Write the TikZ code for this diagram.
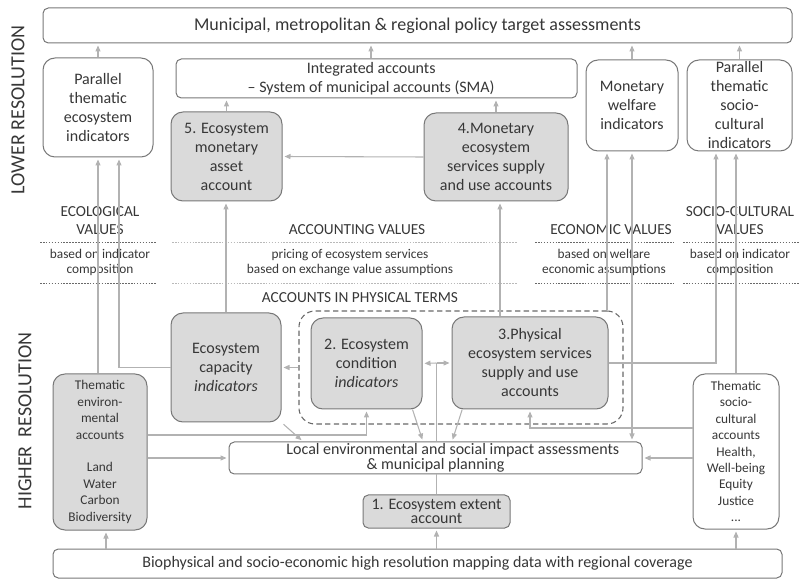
\documentclass[tikz,border=0pt]{standalone}
\usepackage{fontspec}
\setmainfont{Carlito}
\usetikzlibrary{arrows.meta}
\definecolor{tg}{RGB}{55,55,55}
\definecolor{bg}{RGB}{120,120,120}
\definecolor{lg}{RGB}{178,178,178}
\definecolor{fg}{RGB}{218,218,218}
\definecolor{dk}{RGB}{105,105,105}
\definecolor{lt}{RGB}{185,185,185}
\newcommand\bx[7]{\node[#6, minimum width={(#4-#2)*0.75}, minimum height={(#5-#3)*0.75}] (#1) at ({(#2+#4)/2},{(#3+#5)/2}) {#7};}
\tikzset{
  box/.style={draw=bg, line width=0.75pt, fill=white, rounded corners=9pt, align=center, inner sep=0pt, text=tg, font=\fontsize{12}{14.25}\selectfont},
  gbox/.style={box, fill=fg},
  sbox/.style={box, rounded corners=4pt},
  dashbox/.style={draw=dk, line width=0.8pt, dash pattern=on 4pt off 2.5pt, rounded corners=12pt, inner sep=0pt},
  conn/.style={draw=lg, line width=0.8pt},
  arr/.style={conn, -{Triangle[length=4.5pt,width=3.8pt]}, shorten >=1.5pt},
  darr/.style={conn, {Triangle[length=4.5pt,width=3.8pt]}-{Triangle[length=4.5pt,width=3.8pt]}, shorten >=1.5pt, shorten <=1.5pt},
  hd/.style={text=tg, align=center, inner sep=0pt, font=\fontsize{11.5}{13.5}\selectfont},
  sm/.style={text=tg, align=center, inner sep=0pt, font=\fontsize{10}{11.3}\selectfont},
  side/.style={text=tg, inner sep=0pt, rotate=90, font=\fontsize{15}{17}\selectfont},
  dots/.style={draw=dk, line width=0.6pt, dash pattern=on 1.2pt off 1pt},
  ldots/.style={draw=lt, line width=0.6pt, dash pattern=on 1.2pt off 1pt},
}
\begin{document}
\begin{tikzpicture}[x=0.75pt,y=-0.75pt]
\useasboundingbox (0,0) rectangle (803,580);
% coordinates for x/y positions
\coordinate (c106) at (106,0);
\coordinate (c119) at (119,0);
\coordinate (c303) at (303,0);
\coordinate (c371) at (371,0);
\coordinate (c423) at (423,0);
\coordinate (c452) at (452,0);
\coordinate (c500) at (500,0);
\coordinate (c607) at (607,0);
\coordinate (c716) at (716,0);
\coordinate (y363) at (0,363);
\coordinate (y428) at (0,428);
\coordinate (y435) at (0,435);

% side labels
\node[side] (lowres) at (18,110) {LOWER RESOLUTION};
\node[side] (highres) at (25,421) {HIGHER\ \ RESOLUTION};

% boxes
\bx{top}{43}{8}{792}{43}{sbox, font=\fontsize{13.5}{16}\selectfont}{Municipal, metropolitan \& regional policy target assessments}
\bx{pe}{43}{58}{153}{157}{box}{Parallel\\thematic\\ecosystem\\indicators}
\bx{ia}{176}{59}{577}{98}{sbox}{Integrated accounts\hspace*{8pt}\\– System of municipal accounts (SMA)\hspace*{8pt}}
\bx{a5}{171}{112}{282}{201}{gbox}{5. Ecosystem\\monetary\\asset\\account}
\bx{a4}{424}{113}{568}{201}{gbox}{4.Monetary\\ecosystem\\services supply\\and use accounts}
\bx{mw}{586}{60}{678}{151}{box}{Monetary\\welfare\\indicators}
\bx{ps}{687}{60}{792}{151}{box}{Parallel\\thematic\\socio-\\cultural\\indicators}

\bx{dash}{299}{311}{623}{424}{dashbox}{}
\bx{cap}{171}{313}{281}{422}{gbox}{Ecosystem\\capacity\\\textit{indicators}}
\bx{a2}{311}{318}{422}{409}{gbox}{2. Ecosystem\\condition\\\textit{indicators}}
\bx{a3}{452}{317}{608}{409}{gbox}{3.Physical\\ecosystem services\\supply and use\\accounts}
\bx{env}{53}{374}{147}{530}{gbox, font=\fontsize{10}{12.3}\selectfont}{Thematic\\environ-\\mental\\accounts\\[12.3pt]Land\\Water\\Carbon\\Biodiversity}
\bx{soc}{693}{374}{779}{529}{box, font=\fontsize{10}{12.3}\selectfont}{Thematic\\socio-\\cultural\\accounts\\Health,\\Well-being\\Equity\\Justice\\...}
\bx{local}{229}{442}{642}{474}{sbox, font=\fontsize{12}{10}\selectfont}{\hspace*{26pt}Local environmental and social impact assessments\\\& municipal planning}
\bx{a1}{363}{495}{510}{528}{gbox, sbox, fill=fg, font=\fontsize{12}{9.5}\selectfont}{1. Ecosystem extent\\account}
\bx{bot}{53}{549}{782}{578}{sbox}{Biophysical and socio-economic high resolution mapping data with regional coverage}

% value bands
\node[hd] (ecoval) at (100,221) {ECOLOGICAL\\VALUES};
\node[sm] (ecotx) at (100,262.5) {based on indicator\\composition};
\draw[dots] (40,242) -- (157,242);
\draw[dots] (40,283) -- (157,283);

\node[hd] (accval) at (357,230) {ACCOUNTING VALUES};
\node[sm] (acctx) at (350,262.5) {pricing of ecosystem services\\based on exchange value assumptions};
\draw[ldots] (172,242) -- (517,242);
\draw[ldots] (172,283) -- (517,283);
\node[hd] (phys) at (360,298) {ACCOUNTS IN PHYSICAL TERMS};

\node[hd] (econval) at (611,230) {ECONOMIC VALUES};
\node[sm] (econtx) at (604,262.5) {based on welfare\\economic assumptions};
\draw[dots] (535,242) -- (675,242);
\draw[dots] (535,283) -- (675,283);

\node[hd] (socval) at (740,221) {SOCIO-CULTURAL\\VALUES};
\node[sm] (soctx) at (740,262.5) {based on indicator\\composition};
\draw[dots] (683,242) -- (800,242);
\draw[dots] (683,283) -- (800,283);

% connectors: upper part
\draw[arr] (pe.north) -- (pe.north |- top.south);
\draw[arr] (ia.north -| c371) -- (top.south -| c371);
\draw[arr] (mw.north) -- (mw.north |- top.south);
\draw[arr] (ps.north) -- (ps.north |- top.south);
\draw[arr] (a5.north) -- (a5.north |- ia.south);
\draw[arr] (a4.north) -- (a4.north |- ia.south);
\draw[arr] (a4.west) -- (a5.east);

% connectors: lower to upper
\draw[arr] (env.north -| pe.south) -- (pe.south);
\draw[arr] (cap.west) -| (pe.south -| c119);
\draw[arr] (cap.north) -- (cap.north |- a5.south);
\draw[arr] (dash.west) -- (cap.east);
\draw[arr] (a3.north -| c500) -- (a4.south -| c500);
\draw[arr] (a3.east) -| (ps.south -| c716);
\draw[arr] (dash.north -| c607) -- (mw.south -| c607);
\draw[darr] (local.north -| mw.south) -- (mw.south);
\draw[arr] (soc.north) -- (soc.north |- ps.south);

% connectors: lower part
\draw[arr] (env.east |- y435) -| (a2.south);
\draw[arr] (env.east |- local.west) -- (local.west);
\draw[arr, shorten <=2pt] (cap.south east) -- (local.north -| c303);
\draw[arr] ([xshift=-7.5pt]a2.south east) -- (local.north -| c423);
\draw[arr] ([xshift=8pt]a3.south west) -- (local.north -| c452);
\draw[conn] (a1.north) -- (local.south -| a1.north);
\draw[conn] (local.north -| a1.north) -- (a1.north |- y363);
\draw[arr] (a1.north |- y363) -- (a2.east);
\draw[arr] (a1.north |- y363) -- (a3.west);
\draw[arr] (soc.west |- local.east) -- (local.east);
\draw[arr] (soc.west |- y428) -| (a3.south);
\draw[arr] (bot.north -| c106) -- (env.south -| c106);
\draw[arr] (bot.north -| a1.south) -- (a1.south);
\draw[arr] (bot.north -| soc.south) -- (soc.south);
\end{tikzpicture}
\end{document}
